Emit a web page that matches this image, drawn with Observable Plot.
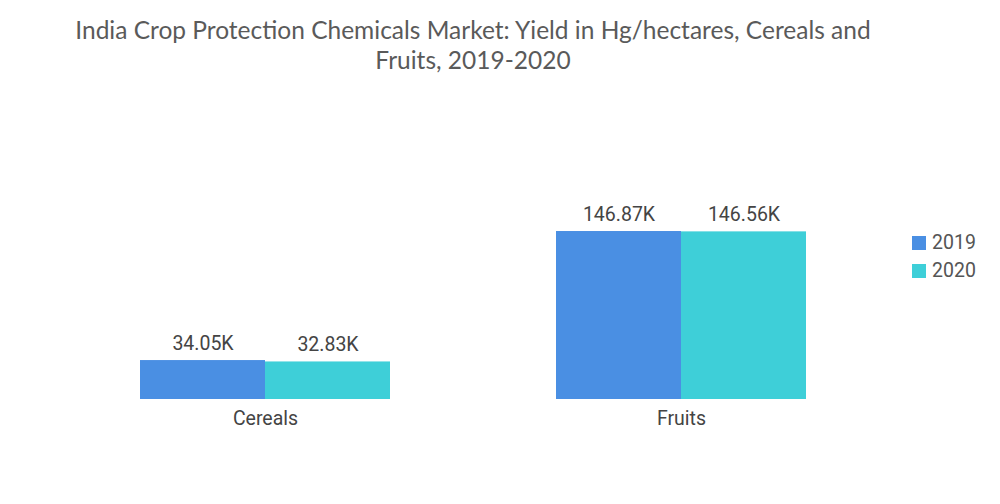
<!DOCTYPE html>
<html>
<head>
<meta charset="utf-8">
<script src="https://cdn.jsdelivr.net/npm/d3@7"></script>
<script src="https://cdn.jsdelivr.net/npm/@observablehq/plot@0.6"></script>
<style>
  body { margin: 0; background: #fff; width: 1000px; height: 504px; overflow: hidden; position: relative; font-family: Roboto, sans-serif; }
  #title { position: absolute; left: 0; top: 15px; width: 946px; text-align: center; font-family: Lato, sans-serif; font-size: 24.5px; line-height: 30px; color: #5a5a5a; }
  #chart { position: absolute; left: 0; top: 76px; }
  #legend { position: absolute; left: 912px; top: 229px; font-family: Roboto, sans-serif; font-size: 19.5px; color: #555; }
  .li { display: flex; align-items: center; height: 28px; line-height: 24px; }
  .sw { width: 14px; height: 14px; margin-right: 6px; }
</style>
</head>
<body>
<div id="title">India Crop Protection Chemicals Market: Yield in Hg/hectares, Cereals and<br>Fruits, 2019-2020</div>
<div id="chart"></div>
<div id="legend"></div>
<script>
const categories = ["Cereals", "Fruits"];
const years = ["2019", "2020"];
const values2019 = [34.05, 146.87];
const values2020 = [32.83, 146.56];
const colors = ["#4a8fe3", "#3ecfd8"];

const data = [];
categories.forEach((c, i) => {
  data.push({category: c, year: years[0], value: values2019[i]});
  data.push({category: c, year: years[1], value: values2020[i]});
});

const chart = Plot.plot({
  width: 1000,
  height: 428,
  marginLeft: 57,
  marginRight: 111,
  marginTop: 140,
  marginBottom: 105,
  style: {fontFamily: "Roboto, sans-serif", fontSize: "19.5px", color: "#444", background: "white"},
  fx: {domain: categories, paddingInner: 0.4, paddingOuter: 0.2, label: null, tickSize: 0, tickPadding: 12},
  x: {domain: years, padding: 0, axis: null},
  y: {domain: [0, 160], axis: null},
  color: {domain: years, range: colors},
  marks: [
    Plot.barY(data, {fx: "category", x: "year", y: "value", fill: "year"}),
    Plot.text(data, {fx: "category", x: "year", y: "value", text: d => d.value.toFixed(2) + "K", dy: -17, fill: "#444", fontSize: 19.5})
  ]
});
document.getElementById("chart").appendChild(chart);

const legend = document.getElementById("legend");
years.forEach((y, i) => {
  const row = document.createElement("div");
  row.className = "li";
  row.innerHTML = `<div class="sw" style="background:${colors[i]}"></div><span>${y}</span>`;
  legend.appendChild(row);
});
</script>
</body>
</html>
